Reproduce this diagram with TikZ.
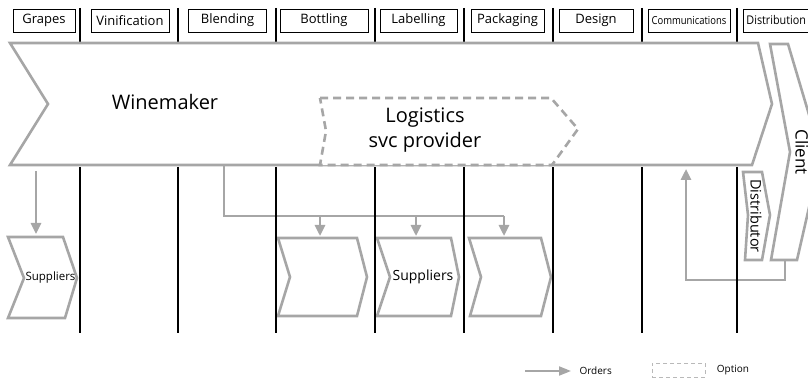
\documentclass[tikz,border=0pt]{standalone}
\usepackage{fontspec}
\setmainfont{Open Sans}
\usepackage{tikz}
\usetikzlibrary{arrows.meta, calc}
\definecolor{corCinza}{RGB}{166,166,166}
\definecolor{corOpcao}{RGB}{185,185,185}

\begin{document}
\begin{tikzpicture}[x=1pt, y=-1pt,
      >={Triangle[length=11pt, width=10pt]},
      etapa/.style={draw=black, line width=0.8pt, minimum height=23pt, inner sep=1pt,
        font=\fontsize{13}{15}\selectfont},
      casca/.style={draw=corCinza, line width=2.6pt, fill=white},
      opcao/.style={draw=corCinza, line width=2.6pt, dash pattern=on 8pt off 5pt,
        fill=white, preaction={draw=white, solid}},
      linha/.style={draw=corCinza, line width=2.6pt},
      pedido/.style={->, draw=corCinza, line width=2.6pt},
      divisa/.style={draw=black, line width=1.8pt}]
    \useasboundingbox (0,0) rectangle (808,379);

    % stages
    \node[etapa, minimum width=62pt] (grapes) at (44,20.5) {Grapes};
    \node[etapa, minimum width=78pt] (vinif) at (130,20.5) {Vinification};
    \node[etapa, minimum width=78pt] (blend) at (227.5,20.5) {Blending};
    \node[etapa, minimum width=88pt] (bottl) at (324,20.5) {Bottling};
    \node[etapa, minimum width=77pt] (label) at (418.5,20.5) {Labelling};
    \node[etapa, minimum width=73pt] (packg) at (507.5,20.5) {Packaging};
    \node[etapa, minimum width=74pt] (desgn) at (596,20.5) {Design};
    \node[etapa, minimum width=82pt] (comms) at (689,20.5) {\scalebox{0.86}[1]{\fontsize{11}{13}\selectfont Communications}};
    \node[etapa, anchor=west, align=left, text width=70pt, inner xsep=3pt] (distr) at (743,20.5)
      {\scalebox{0.9}[1]{\fontsize{12}{14}\selectfont Distribution}};
    \foreach \x in {80,178,276,375,464,553,642,737} {
      \draw[divisa] (\x,8) -- (\x,43);
    }

    % winemaker
    \draw[casca] (10,43) -- (758,43) -- (772,104) -- (752,165) coordinate (wmSE)
      -- (10,165) coordinate (wmSW) -- (48,104) -- cycle;
    \node[font=\fontsize{20}{24}\selectfont] (winemaker) at (165,102) {Winemaker};

    % logistics option
    \draw[opcao] (320,98) -- (551,98) -- (578,129) -- (552,165) -- (320,165) -- (326,131) -- cycle;
    \node[align=center, font=\fontsize{20}{25}\selectfont] (logistica) at (425,130) {Logistics\\svc provider};

    % client and distributor
    \draw[casca] (770,44) -- (788,44) -- (821,155) -- (797,260) -- (771,260) -- (790,152) -- cycle;
    \node[rotate=-90, inner sep=0pt, font=\fontsize{17}{20}\selectfont] (client) at (802,152) {Client};
    \draw[casca] (743,172) -- (762,172) -- (770,215) -- (762,260) -- (745,260) -- (748,215) -- cycle;
    \node[rotate=-90, inner sep=0pt, font=\fontsize{14.5}{17}\selectfont] (distributor) at (756,216) {Distributor};

    % suppliers
    \draw[casca] (8,237) -- (63,237) -- (77,278) -- (65,318) -- (8,318) -- (24,278) -- cycle;
    \node[inner sep=0pt, font=\fontsize{11.5}{14}\selectfont] (fornA) at (50.5,278) {Suppliers};
    \draw[casca] (278,238) -- (357,238) -- (367,277) -- (357,316) -- (278,316) -- (290,277) -- cycle;
    \draw[casca] (377,238) -- (451,238) -- (459,277) -- (451,316) -- (377,316) -- (390,277) -- cycle;
    \node[inner sep=0pt, font=\fontsize{14}{17}\selectfont] (fornC) at (423,277) {Suppliers};
    \draw[casca] (469,238) -- (541,238) -- (551,277) -- (541,316) -- (470,316) -- (481,277) -- cycle;
    \coordinate (pA) at (36,237);
    \coordinate (pB) at (320,238);
    \coordinate (pC) at (416,238);
    \coordinate (pD) at (504,238);

    % orders
    \draw[pedido] ([yshift=-6pt]pA |- wmSW) -- ([yshift=3pt]pA);
    \coordinate (bk) at (224,216);
    \draw[linha] (bk |- wmSW) -- (bk) -- (pD |- bk);
    \foreach \p in {pB,pC,pD} {
      \draw[pedido] (\p |- bk) -- ([yshift=2pt]\p);
    }
    \coordinate (clOut) at (785,260);
    \coordinate (ret) at (686,280);
    \draw[pedido] (clOut) -- (clOut |- ret) -- (ret) -- ([yshift=-4pt]ret |- wmSE);

    \foreach \x in {80,178,276,375,464,553,642,737} {
      \draw[divisa] (\x,167) -- (\x,333);
    }

    % legend
    \coordinate (legA) at (525,371);
    \node[anchor=west, font=\fontsize{10}{12}\selectfont] (ordens) at (576,371) {Orders};
    \draw[pedido, line width=1.8pt, >={Triangle[length=12pt, width=9pt]}, shorten >=5pt] (legA) -- (ordens.west);
    \node[draw=corOpcao, line width=0.7pt, dash pattern=on 4pt off 3pt,
      minimum width=53pt, minimum height=14pt] (opcaoLeg) at (678.5,370) {};
    \node[anchor=west, font=\fontsize{10}{12}\selectfont] (opcaoTxt) at ([xshift=8pt]opcaoLeg.east) {Option};
  \end{tikzpicture}
\end{document}
